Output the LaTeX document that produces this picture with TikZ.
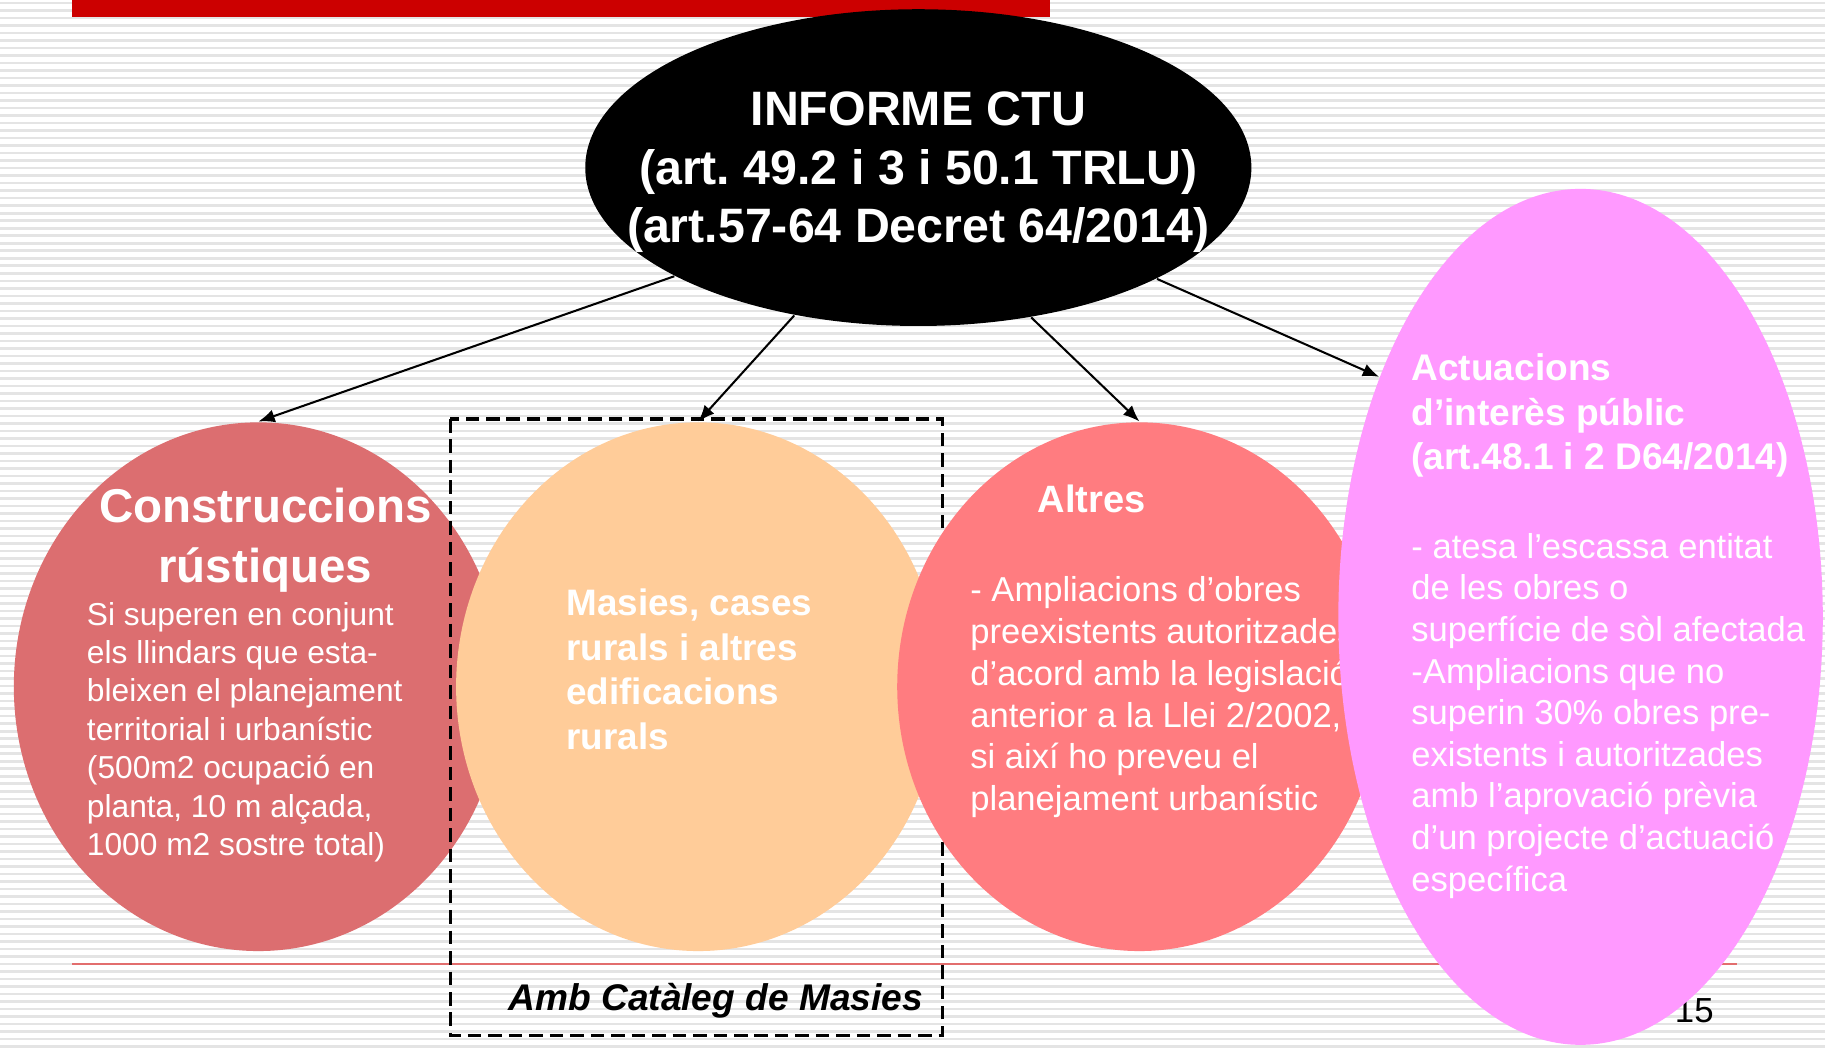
\documentclass[tikz,border=0pt]{standalone}
\usepackage{fontspec}
\setmainfont{Liberation Sans}
\usetikzlibrary{shapes.geometric, arrows.meta}
\frenchspacing

\definecolor{barred}{RGB}{204,0,0}
\definecolor{stripegray}{RGB}{228,228,228}
\definecolor{rulered}{RGB}{226,110,110}
\definecolor{rusticred}{RGB}{220,110,112}
\definecolor{masiesorange}{RGB}{255,204,153}
\definecolor{altressalmon}{RGB}{255,124,128}
\definecolor{interespink}{RGB}{255,153,255}

\newcommand{\fsz}[2]{\fontsize{#1pt}{#2pt}\selectfont}

\tikzset{
    bubble/.style={ellipse, inner sep=0pt, minimum width=4.16cm, minimum height=4.54cm},
    txt/.style={text=white, align=left, anchor=west, inner sep=0pt},
    link/.style={-{Latex[length=4pt, width=3.2pt]}, line width=0.5pt},
    dashframe/.style={dash pattern=on 3.3pt off 1.7pt, line width=0.75pt}
}

\begin{document}
\begin{tikzpicture}[x=0.01cm, y=-0.01cm]
    \useasboundingbox (0,0) rectangle (1568,900);
    \fill[white] (0,0) rectangle (1568,900);
    \foreach \k in {0,...,139}
    {\fill[stripegray] (0,{\k*6.45+1.5}) rectangle ++(1568,2.2);}

    \fill[barred] (62,0) rectangle (902,15);
    \draw[rulered, line width=0.5pt] (62,828) -- (1492,828);
    \node[anchor=east, inner sep=0pt, font=\fsz{8.5}{10}] (page) at (1473,868) {15};

    \node[bubble, fill=black, minimum width=5.72cm, minimum height=2.72cm] (ctu) at (789,144) {};
    \node[align=center, text=white, inner sep=0pt, font=\bfseries\fsz{11.8}{14.2}] (ctutext) at (789,148)
        {INFORME CTU\\(art. 49.2 i 3 i 50.1 TRLU)\\(art.57-64 Decret 64/2014)};

    \node[bubble, fill=rusticred, minimum width=4.2cm] (rustic) at (222,590) {};
    \node[align=center, text=white, inner sep=0pt, font=\bfseries\fsz{11.6}{14.8}] (rustictitle) at (228,464)
        {Construccions\\rústiques};
    \node[txt, font=\fsz{7.75}{9.39}] (rusticbody) at (74,629)
        {Si superen en conjunt\\els llindars que esta-\\bleixen el planejament\\territorial i urbanístic\\(500m2 ocupació en\\planta, 10 m alçada,\\1000 m2 sostre total)};

    \draw[dashframe] (387,360) rectangle (810,890);
    \node[inner sep=0pt, font=\bfseries\itshape\fsz{9.07}{11}] (cataleg) at (615,860) {Amb Catàleg de Masies};

    \node[bubble, fill=masiesorange] (masies) at (600,590) {};
    \node[txt, font=\bfseries\fsz{9}{10.9}] (masiestext) at (486,575)
        {Masies, cases\\rurals i altres\\edificacions\\rurals};

    \node[bubble, fill=altressalmon] (altres) at (979,590) {};
    \node[txt, font=\bfseries\fsz{9.3}{11}] (altrestitle) at (891,429) {Altres};
    \node[txt, font=\fsz{8.45}{10.24}] (altresbody) at (833,599)
        {- Ampliacions d’obres\\preexistents autoritzades\\d’acord amb la legislació\\anterior a la Llei 2/2002,\\si així ho preveu el\\planejament urbanístic};

    \node[bubble, fill=interespink, minimum height=7.35cm] (interes) at (1358,530) {};
    \node[txt, font=\bfseries\fsz{9.06}{10.8}] (interestitle) at (1212,357)
        {Actuacions\\d’interès públic\\(art.48.1 i 2 D64/2014)};
    \node[txt, font=\fsz{8.44}{10.17}] (interesbody) at (1212,615)
        {- atesa l’escassa entitat\\de les obres o\\superfície de sòl afectada\\-Ampliacions que no\\superin 30\% obres pre-\\existents i autoritzades\\amb l’aprovació prèvia\\d’un projecte d’actuació\\específica};

    \draw[link] (ctu.204) -- (rustic.north);
    \draw[link] (ctu.230) -- (masies.north);
    \draw[link] (ctu.307) -- (altres.north);
    \draw[link] (ctu.335) -- (interes.130);
\end{tikzpicture}
\end{document}
